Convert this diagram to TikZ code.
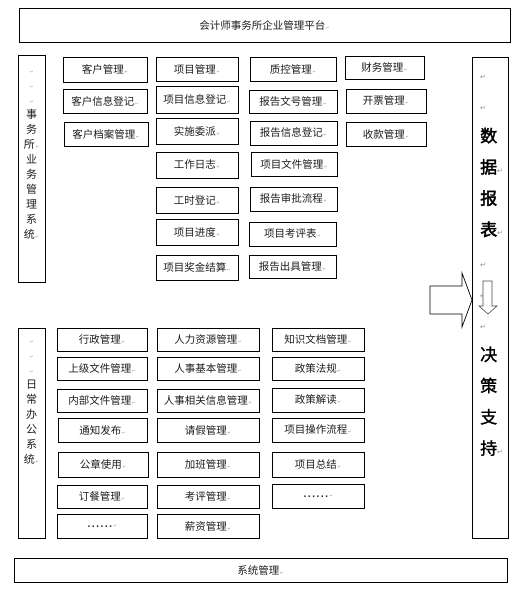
\documentclass[tikz,border=0pt]{standalone}
\usepackage{fontspec}
\setmainfont{Noto Sans CJK SC}
\newfontfamily\cjkbold[FakeBold=2.2]{Noto Sans CJK SC}
\newfontfamily\cjkmed[FakeBold=1.2]{Noto Sans CJK SC}
\newfontfamily\sym{DejaVu Sans}
\definecolor{markgray}{RGB}{140,140,140}
\definecolor{txt}{RGB}{30,30,30}
\newcommand\pmk{{\sym\fontsize{4}{4}\selectfont\color{markgray}\,↵}}
\newcommand\bmk{{\sym\fontsize{7}{7}\selectfont\color{markgray}↵}}
\newcommand\dotsx{{\sym\fontsize{13}{13}\selectfont ……}}
\tikzset{
  box/.style={draw=black, line width=0.8pt, inner sep=0pt, text=txt,
    font=\fontsize{10.5}{12}\selectfont},
  vtext/.style={align=center, inner sep=0pt, text=txt,
    font=\fontsize{11}{15}\selectfont},
}
\newcommand\bx[6]{\node[box, minimum width={(#4-#2)*1pt}, minimum height={(#5-#3)*1pt}]
  (#1) at ({(#2+#4)/2},{(#3+#5)/2}) {#6\pmk};}
\begin{document}
\begin{tikzpicture}[x=1pt,y=-1pt]
\useasboundingbox[fill=white] (0,0) rectangle (529,600);

% top and bottom bars
\bx{top}{19}{8}{510}{42}{会计师事务所企业管理平台}
\bx{sys}{14}{558}{507}{582}{系统管理}

% left vertical boxes
\node[draw, line width=0.8pt, minimum width=27pt, minimum height=227pt] (lb1) at (31.5,168.5) {};
\node[vtext] (lb1t) at (lb1.center |- 0,155.5) {\pmk\\\pmk\\\pmk\\事\\务\\所\pmk\\业\\务\\管\\理\\系\\统\pmk};
\node[draw, line width=0.8pt, minimum width=27pt, minimum height=210pt] (lb2) at (31.5,433) {};
\node[vtext] (lb2t) at (lb2.center |- 0,402.5) {\pmk\\\pmk\\\pmk\\日\\常\\办\\公\\系\\统\pmk};

% right vertical box
\node[draw, line width=0.8pt, minimum width=36pt, minimum height=481pt] (rb) at (490,297.5) {};
\node[align=left, anchor=west, inner sep=0pt, text=black,
  font=\fontsize{17}{31.25}\selectfont] (rbt) at (480,265.5)
  {\bmk\\\bmk\\{\cjkbold 数}\\{\cjkbold 据}\bmk\\{\cjkbold 报}\\{\cjkbold 表}\bmk\\\bmk\\\bmk\\\bmk\\{\cjkmed 决}\\{\cjkmed 策}\\{\cjkmed 支}\\{\cjkmed 持}\bmk};

% business column 1
\bx{a1}{63}{57}{147}{82}{客户管理}
\bx{a2}{63}{89}{147}{113}{客户信息登记}
\bx{a3}{64}{122}{148}{146}{客户档案管理}
% column 2
\bx{b1}{156}{57}{238}{81}{项目管理}
\bx{b2}{156}{86}{238}{113}{项目信息登记}
\bx{b3}{156}{118}{238}{144}{实施委派}
\bx{b4}{156}{152}{238}{178}{工作日志}
\bx{b5}{156}{187}{238}{213}{工时登记}
\bx{b6}{156}{219}{238}{245}{项目进度}
\bx{b7}{156}{255}{238}{280}{项目奖金结算}
% column 3
\bx{c1}{250}{57}{336}{81}{质控管理}
\bx{c2}{249}{90}{337}{113}{报告文号管理}
\bx{c3}{250}{121}{337}{145}{报告信息登记}
\bx{c4}{251}{152}{337}{176}{项目文件管理}
\bx{c5}{250}{187}{337}{211}{报告审批流程}
\bx{c6}{249}{222}{336}{246}{项目考评表}
\bx{c7}{249}{255}{336}{278}{报告出具管理}
% column 4
\bx{d1}{345}{56}{424}{79}{财务管理}
\bx{d2}{346}{89}{426}{113}{开票管理}
\bx{d3}{346}{122}{426}{146}{收款管理}

% office column A
\bx{e1}{57}{328}{147}{351}{行政管理}
\bx{e2}{57}{357}{147}{380}{上级文件管理}
\bx{e3}{57}{389}{147}{412}{内部文件管理}
\bx{e4}{58}{418}{147}{442}{通知发布}
\bx{e5}{58}{452}{148}{477}{公章使用}
\bx{e6}{57}{485}{147}{508}{订餐管理}
\bx{e7}{57}{514}{147}{538}{\dotsx}
% column B
\bx{f1}{157}{328}{259}{351}{人力资源管理}
\bx{f2}{157}{357}{259}{380}{人事基本管理}
\bx{f3}{157}{389}{259}{412}{人事相关信息管理}
\bx{f4}{157}{418}{259}{442}{请假管理}
\bx{f5}{157}{452}{259}{477}{加班管理}
\bx{f6}{157}{485}{259}{508}{考评管理}
\bx{f7}{157}{514}{259}{538}{薪资管理}
% column C
\bx{g1}{272}{328}{364}{351}{知识文档管理}
\bx{g2}{272}{357}{364}{380}{政策法规}
\bx{g3}{272}{388}{364}{412}{政策解读}
\bx{g4}{272}{418}{364}{442}{项目操作流程}
\bx{g5}{272}{452}{364}{477}{项目总结}
\bx{g6}{272}{484}{364}{508}{\dotsx}

% big block arrow into the report column
\draw[line width=0.7pt, fill=white] (430,286) -- (462,286) -- (462,273) -- (472,300)
  -- (462,327) -- (462,314) -- (430,314) -- cycle;
% small down arrow
\draw[line width=0.6pt, draw=black!70, fill=white] (483,281) -- (492,281) -- (492,306)
  -- (497,306) -- (488,314) -- (479,306) -- (483,306) -- cycle;
\end{tikzpicture}
\end{document}
